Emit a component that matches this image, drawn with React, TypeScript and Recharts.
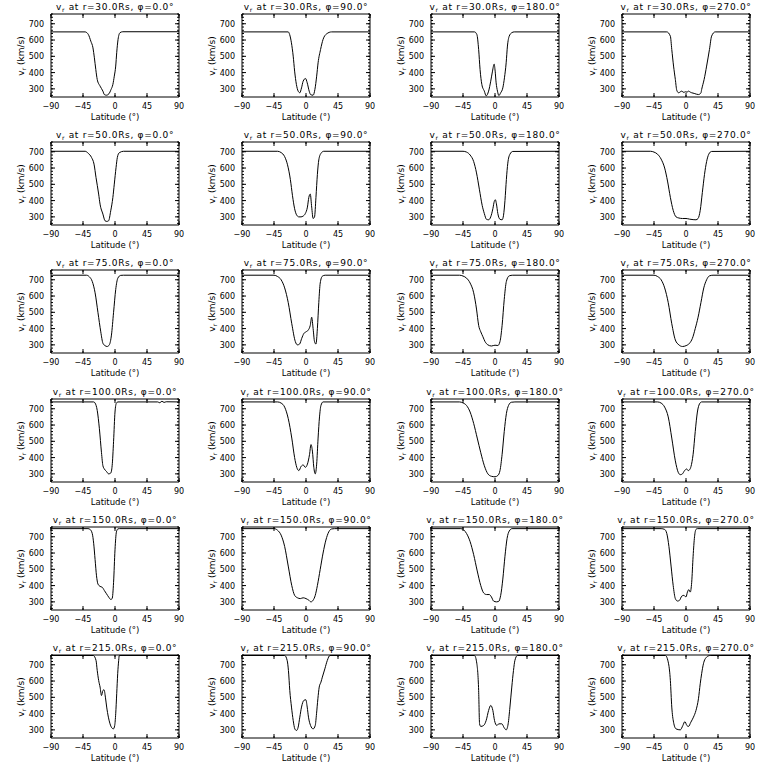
import React from 'react';
import { LineChart, Line, XAxis, YAxis } from 'recharts';

type Pt = [number, number];

// radial velocity (km/s) vs latitude (deg), one array per panel
const r30p0: Pt[] = [[-90,650],[-42,650],[-37.5,634],[-34,593],[-31,552],[-29,491],[-27,419],[-25,358],[-21,317],[-17,286],[-15,265],[-12,261],[-8.5,270],[-5.6,296],[-3,327],[-1,378],[1,440],[2.4,522],[4.3,604],[7,645],[11,651],[90,651]];
const r30p90: Pt[] = [[-90,650],[-25,650],[-23,634],[-20.5,583],[-18,501],[-16,409],[-13.5,327],[-11,286],[-8.7,276],[-6.3,306],[-4,347],[-0.7,364],[1.7,337],[4.5,286],[6.4,265],[10,261],[12.5,296],[15,378],[17,460],[20.5,542],[24,604],[29,638],[36,650],[90,650]];
const r30p180: Pt[] = [[-90,650],[-28.8,650],[-25.5,634],[-23,542],[-21,419],[-18.5,327],[-15,286],[-12.4,257],[-9,286],[-6,347],[-3.5,409],[-1.2,452],[0.2,409],[1.6,337],[3.5,286],[5.4,259],[8,276],[11,306],[13.3,368],[15.7,460],[17.5,563],[20,624],[23.6,645],[27,650],[90,650]];
const r30p270: Pt[] = [[-90,650],[-27,650],[-22,624],[-20,542],[-17.5,440],[-15,358],[-13,292],[-10.5,276],[-6,286],[-3,278],[-1,282],[1.5,280],[3.5,286],[6,280],[8,276],[11.5,272],[17.5,265],[21,275],[22,296],[25.5,358],[29,440],[33,542],[36,624],[41,650],[90,650]];

const r50p0: Pt[] = [[-90,703],[-42,703],[-37.5,690],[-33,665],[-29.5,624],[-26.7,542],[-23,440],[-21,378],[-17,317],[-14,276],[-11.6,272],[-9,276],[-6,337],[-3,419],[-1,501],[1.5,604],[3.3,665],[6,694],[12,703],[90,703]];
const r50p90: Pt[] = [[-90,703],[-40,703],[-35,695],[-30,670],[-26,620],[-22,530],[-19,430],[-16,350],[-13,310],[-10,300],[-7,300],[-4,305],[-1,320],[2,360],[4,420],[6,440],[8,360],[10,290],[12,300],[14,420],[16,560],[18,650],[21,690],[25,703],[90,703]];
const r50p180: Pt[] = [[-90,703],[-45,703],[-40,698],[-35,680],[-30,640],[-26,570],[-22,470],[-18,370],[-15,320],[-12,285],[-9,282],[-6,300],[-3,350],[-1,395],[0.5,405],[2,380],[4,320],[7,285],[10,282],[12,310],[14,400],[16,530],[18,630],[21,685],[25,702],[90,703]];
const r50p270: Pt[] = [[-90,703],[-50,703],[-45,698],[-40,685],[-35,655],[-30,600],[-26,520],[-22,420],[-18,340],[-14,300],[-10,293],[-5,290],[0,290],[5,286],[10,283],[14,282],[17,290],[20,340],[23,450],[26,560],[29,640],[32,685],[36,702],[90,703]];

const r75p0: Pt[] = [[-90,728],[-40,728],[-36,718],[-32,690],[-28,620],[-24,500],[-20,380],[-17,310],[-14,295],[-11,290],[-8,300],[-5,360],[-2,500],[1,640],[4,710],[8,727],[12,728],[90,728]];
const r75p90: Pt[] = [[-90,728],[-45,728],[-40,720],[-35,700],[-30,650],[-25,560],[-20,430],[-15,320],[-12,300],[-9,305],[-6,340],[-3,370],[0,380],[3,390],[6,420],[8,470],[10,400],[12,320],[14,305],[16,400],[18,560],[20,680],[23,722],[27,728],[90,728]];
const r75p180: Pt[] = [[-90,728],[-50,728],[-45,723],[-40,710],[-35,680],[-30,620],[-26,520],[-23,420],[-20,380],[-17,350],[-14,320],[-10,300],[-5,293],[0,298],[4,296],[7,320],[10,420],[13,580],[16,690],[20,724],[25,728],[90,728]];
const r75p270: Pt[] = [[-90,728],[-45,728],[-40,720],[-35,700],[-30,650],[-25,560],[-20,430],[-15,330],[-10,300],[-5,290],[0,295],[5,310],[9,340],[13,400],[17,470],[21,560],[25,650],[29,700],[33,724],[38,728],[90,728]];

const r100p0: Pt[] = [[-90,742],[-30,742],[-28,735],[-25,690],[-22,580],[-19,430],[-17,350],[-15,330],[-12,315],[-9,300],[-6,305],[-4,350],[-2,500],[0,680],[2,735],[4,742],[60,742],[63,737],[66,746],[69,739],[72,743],[90,742]];
const r100p90: Pt[] = [[-90,742],[-40,742],[-35,735],[-30,710],[-25,640],[-20,520],[-16,400],[-13,340],[-10,320],[-7,345],[-4,355],[-1,340],[2,360],[5,420],[7,480],[9,440],[11,340],[13,300],[15,360],[17,520],[19,650],[21,720],[24,742],[90,742]];
const r100p180: Pt[] = [[-90,742],[-50,742],[-45,736],[-40,720],[-35,680],[-30,610],[-25,520],[-20,430],[-15,350],[-10,300],[-5,285],[0,282],[4,290],[7,320],[10,420],[13,560],[16,670],[19,720],[23,740],[28,742],[90,742]];
const r100p270: Pt[] = [[-90,742],[-40,742],[-35,735],[-30,710],[-25,650],[-20,520],[-15,380],[-11,310],[-8,295],[-5,300],[-2,320],[1,330],[3,320],[5,325],[7,345],[10,420],[13,560],[16,680],[19,730],[22,742],[90,742]];

const r150p0: Pt[] = [[-90,750],[-38,750],[-35,745],[-32,720],[-30,660],[-28,560],[-26,460],[-24,410],[-21,395],[-18,390],[-15,370],[-12,350],[-9,330],[-6,315],[-4,320],[-2,420],[0,620],[2,730],[4,748],[6,750],[90,750]];
const r150p90: Pt[] = [[-90,750],[-45,750],[-40,740],[-35,710],[-30,640],[-25,520],[-20,400],[-16,340],[-12,325],[-8,320],[-4,325],[0,320],[4,310],[7,300],[10,310],[13,340],[16,400],[20,500],[24,600],[28,680],[32,730],[36,748],[40,750],[90,750]];
const r150p180: Pt[] = [[-90,750],[-48,750],[-44,742],[-40,720],[-35,670],[-30,590],[-25,490],[-20,400],[-16,355],[-12,345],[-8,345],[-5,330],[-2,305],[2,300],[5,302],[8,340],[11,440],[14,580],[17,690],[20,735],[24,750],[90,750]];
const r150p270: Pt[] = [[-90,750],[-35,750],[-30,745],[-27,720],[-24,640],[-21,520],[-18,400],[-15,320],[-12,305],[-9,310],[-6,335],[-3,340],[0,330],[2,360],[4,375],[6,360],[8,420],[10,580],[12,700],[14,745],[16,750],[90,750]];

const r215p0: Pt[] = [[-90,757],[-30.5,757],[-26.7,727],[-25,665],[-23,604],[-21,563],[-19,511],[-17,542],[-15.4,546],[-13.5,501],[-11.7,440],[-9.3,378],[-7,337],[-4.6,313],[-2.3,306],[-0.4,327],[1,399],[2.4,522],[3.8,645],[5.2,727],[6,757],[90,757]];
const r215p90: Pt[] = [[-90,757],[-30,757],[-26.5,727],[-24.7,665],[-22.8,542],[-20.4,440],[-18,358],[-15.7,306],[-13.4,296],[-11,317],[-8.7,378],[-6.3,440],[-3,481],[-0.2,485],[1.7,440],[3.5,378],[6.4,327],[10,306],[13,327],[14.8,399],[16.7,491],[18.6,563],[21,593],[23,624],[26.5,675],[30,727],[33.6,757],[90,757]];
const r215p180: Pt[] = [[-90,757],[-28.8,757],[-25.5,706],[-23,542],[-21.7,337],[-20,321],[-16,327],[-12.4,358],[-9,419],[-6,450],[-3,419],[-0.7,358],[2.6,327],[5.4,337],[9.6,337],[12.9,313],[15.7,300],[18.5,337],[21,440],[23.6,563],[26,665],[28,727],[31.5,757],[90,757]];
const r215p270: Pt[] = [[-90,757],[-29,757],[-24.5,706],[-22,604],[-20,440],[-17.5,347],[-14,306],[-8,300],[-4.4,327],[-1.6,351],[1.2,327],[3.5,321],[6.8,347],[10.5,378],[14,419],[17.5,491],[20,583],[22,645],[24.5,706],[29,747],[34,757],[90,757]];

const radii = ['30.0', '50.0', '75.0', '100.0', '150.0', '215.0'];
const phis = ['0.0', '90.0', '180.0', '270.0'];
const curves: Pt[][][] = [
  [r30p0, r30p90, r30p180, r30p270],
  [r50p0, r50p90, r50p180, r50p270],
  [r75p0, r75p90, r75p180, r75p270],
  [r100p0, r100p90, r100p180, r100p270],
  [r150p0, r150p90, r150p180, r150p270],
  [r215p0, r215p90, r215p180, r215p270],
];

const latTicks = [-90, -45, 0, 45, 90];
const vTicks = [260, 280, 300, 320, 340, 360, 380, 400, 420, 440, 460, 480, 500, 520, 540, 560, 580, 600, 620, 640, 660, 680, 700, 720, 740, 760];
const vDomain = [250, 760];

// plot box positions on the page
const boxLeft = [51, 242, 431, 622];
const boxTop = [14, 142, 270, 399, 527, 655];

const FONT = 'DejaVu Sans';
// inward tick of 2px drawn by recharts, label offset 5px outside the axis
const TICK = -2;
const MARGIN = 7;
const OFF = MARGIN + TICK;

const fmt = (v: number) => (v < 0 ? `\u2212${-v}` : `${v}`);

const BottomTick = (p: any) => {
  const ay = p.y - OFF;
  return (
    <g>
      <line x1={p.x} x2={p.x} y1={ay} y2={ay - 4} stroke="#000" strokeWidth={1} />
      <text x={p.x} y={ay + 12} textAnchor="middle" fontSize={8} fontFamily={FONT} fill="#000">{fmt(p.payload.value)}</text>
    </g>
  );
};

const TopTick = (p: any) => {
  const ay = p.y + OFF;
  return <line x1={p.x} x2={p.x} y1={ay} y2={ay + 4} stroke="#000" strokeWidth={1} />;
};

const LeftTick = (p: any) => {
  const ax = p.x + OFF;
  const major = p.payload.value % 100 === 0;
  if (!major) return <g />;
  return (
    <g>
      <line x1={ax} x2={ax + 4} y1={p.y} y2={p.y} stroke="#000" strokeWidth={1} />
      <text x={ax - 7} y={p.y + 3} textAnchor="end" fontSize={8} fontFamily={FONT} fill="#000">{p.payload.value}</text>
    </g>
  );
};

const RightTick = (p: any) => {
  const ax = p.x - OFF;
  const major = p.payload.value % 100 === 0;
  if (!major) return <g />;
  return <line x1={ax} x2={ax - 4} y1={p.y} y2={p.y} stroke="#000" strokeWidth={1} />;
};

const Panel = ({ row, col }: { row: number; col: number }) => {
  const data = curves[row][col].map(([lat, v]) => ({ lat, v }));
  return (
    <div style={{ position: 'absolute', left: boxLeft[col] - 51, top: boxTop[row] - 14, width: 192, height: 128 }}>
      <LineChart width={192} height={128} data={data} margin={{ top: 13, right: 12, bottom: 0, left: 0 }}>
        <XAxis xAxisId="b" dataKey="lat" type="number" domain={[-90, 90]} ticks={latTicks} interval={0}
          allowDataOverflow height={31} tickSize={TICK} tickMargin={MARGIN} tick={BottomTick}
          stroke="#000" tickLine={{ stroke: '#000' }} />
        <XAxis xAxisId="t" orientation="top" dataKey="lat" type="number" domain={[-90, 90]} ticks={latTicks} interval={0}
          allowDataOverflow height={1} tickSize={TICK} tickMargin={MARGIN} tick={TopTick}
          stroke="#000" tickLine={{ stroke: '#000' }} />
        <YAxis yAxisId="l" type="number" domain={vDomain} ticks={vTicks} interval={0}
          allowDataOverflow width={51} tickSize={TICK} tickMargin={MARGIN} tick={LeftTick}
          stroke="#000" tickLine={{ stroke: '#000' }} />
        <YAxis yAxisId="r" orientation="right" type="number" domain={vDomain} ticks={vTicks} interval={0}
          allowDataOverflow width={1} tickSize={TICK} tickMargin={MARGIN} tick={RightTick}
          stroke="#000" tickLine={{ stroke: '#000' }} />
        <Line xAxisId="t" yAxisId="r" dataKey="v" type="monotone" stroke="none" dot={false}
          activeDot={false} isAnimationActive={false} />
        <Line xAxisId="b" yAxisId="l" dataKey="v" type="monotone" stroke="#000" strokeWidth={1}
          dot={false} isAnimationActive={false} />
      </LineChart>
      <svg width={192} height={128} style={{ position: 'absolute', left: 0, top: 0, pointerEvents: 'none' }}>
        <text x={115} y={10} textAnchor="middle" fontSize={9} fontFamily={FONT} letterSpacing={0.7} fill="#000">
          <tspan>v</tspan>
          <tspan fontSize={6} dy={2}>r</tspan>
          <tspan dy={-2}>{` at r=${radii[row]}Rs, \u03c6=${phis[col]}\u00b0`}</tspan>
        </text>
        <text transform="translate(24,56) rotate(-90)" textAnchor="middle" fontSize={9} fontFamily={FONT} fill="#000">
          <tspan>v</tspan>
          <tspan fontSize={6} dy={2}>r</tspan>
          <tspan dy={-2}> (km/s)</tspan>
        </text>
        <text x={115} y={119.5} textAnchor="middle" fontSize={8.5} fontFamily={FONT} fill="#000">Latitude (°)</text>
      </svg>
    </div>
  );
};

export default function App() {
  return (
    <div style={{ position: 'absolute', left: 0, top: 0, width: 768, height: 768, background: '#fff' }}>
      {curves.map((rowCurves, r) =>
        rowCurves.map((_, c) => <Panel key={`${r}-${c}`} row={r} col={c} />)
      )}
    </div>
  );
}
